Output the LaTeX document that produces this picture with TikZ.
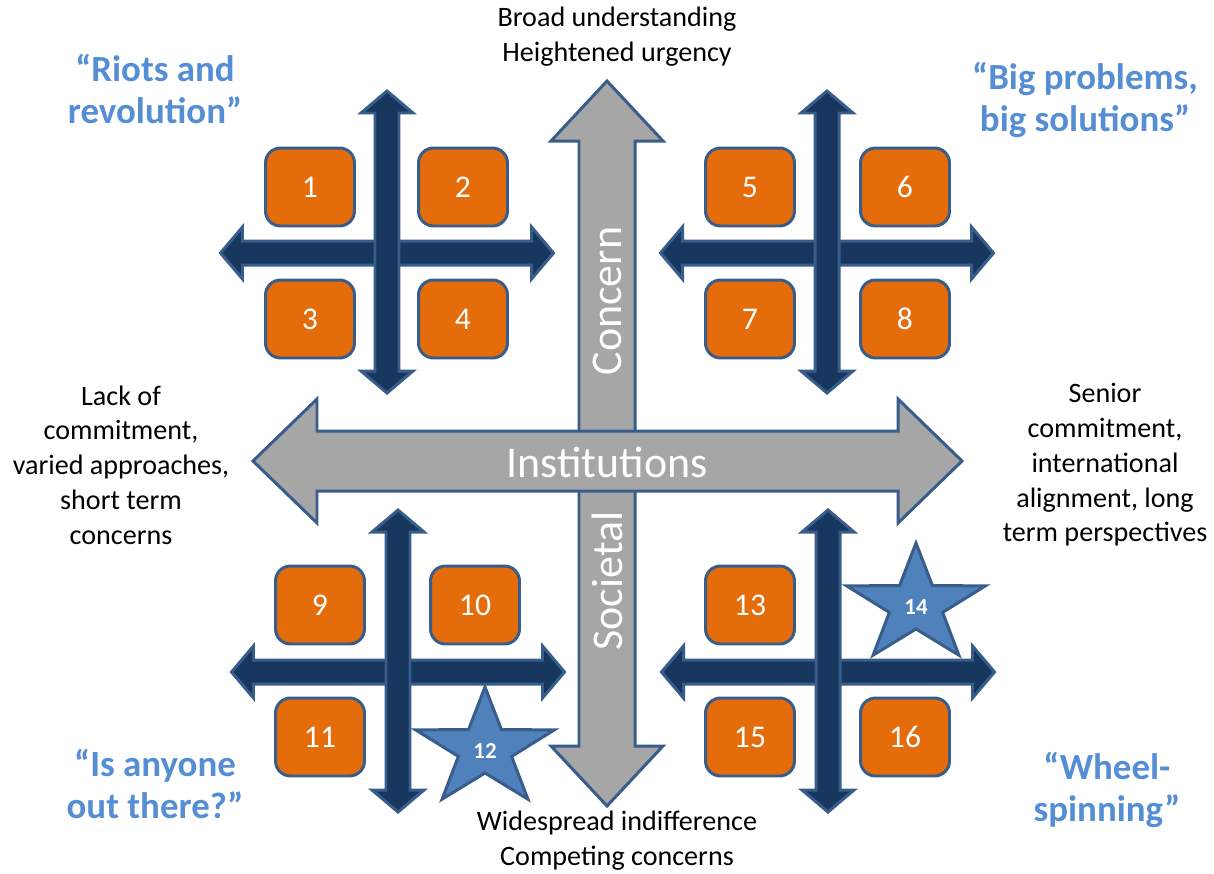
\documentclass[tikz,border=0pt]{standalone}
\usepackage{fontspec}
\setmainfont{Carlito}

\definecolor{naranja}{HTML}{E46C0A}
\definecolor{borde}{HTML}{385D8A}
\definecolor{azul}{HTML}{4F81BD}
\definecolor{marino}{HTML}{17375E}
\definecolor{gris}{HTML}{A6A6A6}
\definecolor{celeste}{HTML}{558ED5}

\tikzset{
  caja/.style={draw=borde, fill=naranja, line width=1.7pt, rounded corners=0.3cm,
    minimum width=1.78cm, minimum height=1.56cm, text=white,
    font=\fontsize{18}{18}\selectfont},
  estrella/.style={draw=borde, fill=azul, line width=1.7pt, line join=miter},
  numero/.style={text=white, inner sep=0pt, font=\bfseries\fontsize{13}{13}\selectfont},
  lema/.style={text=celeste, align=center, font=\bfseries\fontsize{21}{24}\selectfont},
  nota/.style={align=center, font=\fontsize{16}{19.8}\selectfont},
  eje/.style={text=white, font=\fontsize{25}{25}\selectfont},
  flecha/.style={draw=borde, line width=1.7pt, line join=miter},
  % flecha doble: media longitud, medio ancho del eje, medio ancho de la punta, largo de la punta
  pics/flechadoble/.style n args={4}{code={
    \path[pic actions] (-#1,0) -- (-#1+#4,-#3) -- (-#1+#4,-#2) -- (#1-#4,-#2)
      -- (#1-#4,-#3) -- (#1,0) -- (#1-#4,#3) -- (#1-#4,#2) -- (-#1+#4,#2)
      -- (-#1+#4,#3) -- cycle;
  }},
  % estrella de cinco puntas algo ancha
  pics/cincopuntas/.style={code={
    \path[pic actions] (-90:73 and 62) -- (-54:28 and 24) -- (-18:73 and 62)
      -- (18:28 and 24) -- (54:73 and 62) -- (90:28 and 24) -- (126:73 and 62)
      -- (162:28 and 24) -- (198:73 and 62) -- (234:28 and 24) -- cycle;
  }}
}

\begin{document}
\begin{tikzpicture}[x=0.02cm, y=-0.02cm]
    \useasboundingbox (0,0) rectangle (1214,873);

    % Dibuja los ejes grises
    \pic[flecha, fill=gris, rotate=90] at (607,443.5) {flechadoble={362.5}{28}{56}{60}};
    \pic[flecha, fill=gris] at (607.5,461) {flechadoble={354.5}{30}{62}{64}};
    \node[eje] (inst) at (607,462) {Institutions};
    \node[eje, rotate=90] (concern) at (607,301) {Concern};
    \node[eje, rotate=90] (societal) at (607,581) {Societal};

    % Dibuja las cruces de cada cuadrante
    \foreach \cx/\cy in {387/253, 827/253, 398/672, 828/672} {
      \pic[flecha, fill=marino] at (\cx,\cy) {flechadoble={166.5}{12}{26}{22}};
      \pic[flecha, fill=marino, rotate=90] at (\cx,\cy-11) {flechadoble={151}{12}{26}{22}};
    }

    % Dibuja las cajas numeradas
    \foreach \n/\x/\y in {1/310/187, 2/463/187, 3/310/319, 4/463/319,
                          5/750/187, 6/905/187, 7/750/319, 8/905/319,
                          9/320/605, 10/475/605, 11/320/737,
                          13/750/605, 15/750/737, 16/905/737}
      \node[caja] (c\n) at (\x,\y) {\n};

    % Dibuja las estrellas
    \pic[estrella] at (485,749) {cincopuntas};
    \node[numero] (c12) at (485,751) {12};
    \pic[estrella] at (916,605) {cincopuntas};
    \node[numero] (c14) at (916,607) {14};

    % Textos de los extremos
    \node[nota] (arriba) at (617,37) {Broad understanding\\Heightened urgency};
    \node[nota] (abajo) at (617,841) {Widespread indifference\\Competing concerns};
    \node[nota] (izq) at (121,465) {Lack of\\commitment,\\varied approaches,\\short term\\concerns};
    \node[nota] (der) at (1105,465) {Senior\\commitment,\\international\\alignment, long\\term perspectives};

    % Lemas de los cuadrantes
    \node[lema] (riots) at (155,89) {“Riots and\\revolution”};
    \node[lema] (big) at (1085,100) {“Big problems,\\big solutions”};
    \node[lema] (anyone) at (155,784) {“Is anyone\\out there?”};
    \node[lema] (wheel) at (1107,790) {“Wheel-\\spinning”};
\end{tikzpicture}
\end{document}
